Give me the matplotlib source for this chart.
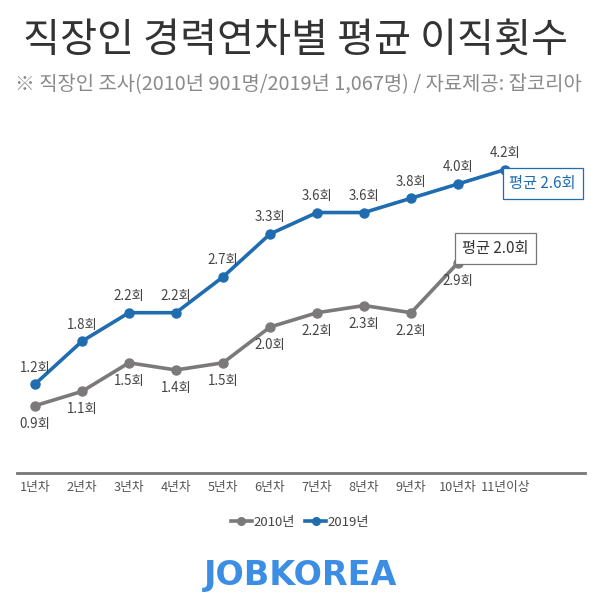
import matplotlib
matplotlib.use("Agg")
import matplotlib.pyplot as plt
from matplotlib.lines import Line2D

plt.rcParams['font.family'] = ['Noto Sans CJK KR', 'DejaVu Sans']

categories = ['1년차', '2년차', '3년차', '4년차', '5년차', '6년차',
              '7년차', '8년차', '9년차', '10년차', '11년이상']
values_2010 = [0.9, 1.1, 1.5, 1.4, 1.5, 2.0, 2.2, 2.3, 2.2, 2.9]
values_2019 = [1.2, 1.8, 2.2, 2.2, 2.7, 3.3, 3.6, 3.6, 3.8, 4.0, 4.2]
avg_2010 = 2.0
avg_2019 = 2.6

gray = '#7b797a'
blue = '#1f6db0'

fig = plt.figure(figsize=(6.0, 6.12), dpi=100)
fig.patch.set_facecolor('white')

fig.text(0.493, 0.935, '직장인 경력연차별 평균 이직횟수', ha='center', va='center',
         fontsize=29, color='#333333', fontweight='medium')
fig.text(0.497, 0.861, '※ 직장인 조사(2010년 901명/2019년 1,067명) / 자료제공: 잡코리아',
         ha='center', va='center', fontsize=14.3, color='#8a8a8a')

ax = fig.add_axes([0.0283, 0.2271, 0.947, 0.5262])
x19 = list(range(len(values_2019)))
x10 = list(range(len(values_2010)))

ax.plot(x10, values_2010, color=gray, lw=2.6, marker='o', ms=6.5, zorder=3)
ax.plot(x19, values_2019, color=blue, lw=2.6, marker='o', ms=6.5, zorder=3)

for x, v in zip(x19, values_2019):
    ax.annotate(f'{v:.1f}회', (x, v), xytext=(0, 12), textcoords='offset points',
                ha='center', va='center', fontsize=9.6, color='#444444')
for x, v in zip(x10, values_2010):
    ax.annotate(f'{v:.1f}회', (x, v), xytext=(0, -13), textcoords='offset points',
                ha='center', va='center', fontsize=9.6, color='#444444')

ax.annotate(f'평균 {avg_2019:.1f}회', (x19[-1], values_2019[-1]), xytext=(3, -10),
            textcoords='offset points', ha='left', va='center', fontsize=11,
            color=blue,
            bbox=dict(boxstyle='square,pad=0.45', fc='white', ec=blue, lw=0.9))
ax.annotate(f'평균 {avg_2010:.1f}회', (x10[-1], values_2010[-1]), xytext=(3, 10),
            textcoords='offset points', ha='left', va='center', fontsize=11,
            color='#333333',
            bbox=dict(boxstyle='square,pad=0.45', fc='white', ec='#777777', lw=0.9))

ax.set_xlim(-0.38, 11.70)
ax.set_ylim(-0.04, 4.46)
ax.set_xticks(x19)
ax.set_xticklabels(categories, fontsize=9.2, color='#555555')
ax.tick_params(axis='x', length=0, pad=6)
ax.set_yticks([])
for s in ['top', 'right', 'left']:
    ax.spines[s].set_visible(False)
ax.spines['bottom'].set_color('#777777')
ax.spines['bottom'].set_linewidth(2)

handles = [Line2D([0], [0], color=gray, lw=2.6, marker='o', ms=5.5),
           Line2D([0], [0], color=blue, lw=2.6, marker='o', ms=5.5)]
fig.legend(handles, ['2010년', '2019년'], loc='center', bbox_to_anchor=(0.5, 0.147),
           ncol=2, frameon=False, fontsize=9.5, handlelength=1.6, handletextpad=0.1,
           columnspacing=0.8, labelcolor='#444444')

fig.text(0.5, 0.06, 'JOBKOREA', ha='center', va='center', fontsize=24,
         fontweight='black', color='#3b8ee3', family=['DejaVu Sans'])

fig.savefig('out.png', dpi=100)
